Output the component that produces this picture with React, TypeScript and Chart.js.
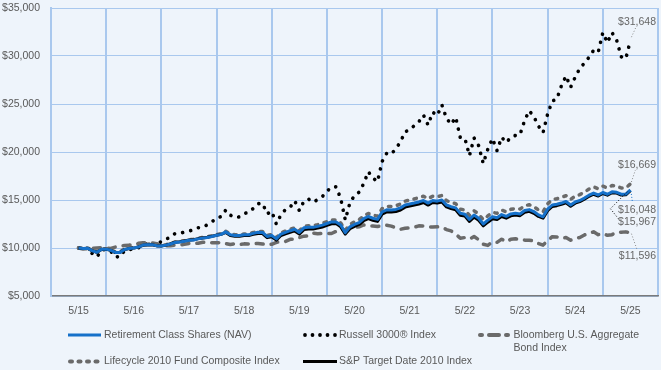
import React, { useEffect, useRef } from 'react';
import { Chart, registerables } from 'chart.js';

Chart.register(...registerables);

// Monthly values, 5/15 .. 5/25 (121 months)
const RETIREMENT_NAV = [
  10000, 9950, 9980, 9700, 9560, 9880, 9880, 9760, 9540, 9520,
  9850, 9960, 10000, 10100, 10300, 10330, 10350, 10230, 10200, 10300,
  10420, 10580, 10620, 10700, 10800, 10830, 10950, 11030, 11100, 11200,
  11320, 11420, 11680, 11380, 11300, 11300, 11380, 11380, 11520, 11640,
  11620, 11200, 11300, 10950, 11450, 11620, 11800, 11950, 11620, 12100,
  12150, 12150, 12250, 12380, 12550, 12720, 12720, 12400, 11600, 12200,
  12450, 12650, 13050, 13280, 13100, 12980, 13750, 13980, 13950, 14020,
  14180, 14480, 14580, 14680, 14800, 14950, 14680, 14950, 14880, 15000,
  14480, 14300, 14180, 13620, 13520, 12980, 13440, 13100, 12500, 12900,
  13250, 13160, 13480, 13300, 13550, 13620, 13550, 13900, 14000, 13800,
  13450, 13250, 14050, 14480, 14550, 14680, 14850, 14480, 14800, 14950,
  15200, 15500, 15720, 15520, 15780, 15600, 15850, 15800, 15600, 15620,
  16048,
];

const SP_TARGET_2010 = [
  10000, 9940, 9960, 9700, 9560, 9850, 9860, 9750, 9520, 9520,
  9830, 9950, 9990, 10090, 10280, 10320, 10340, 10220, 10200, 10300,
  10440, 10600, 10650, 10740, 10830, 10860, 10980, 11050, 11120, 11220,
  11330, 11420, 11620, 11300, 11220, 11220, 11290, 11300, 11420, 11520,
  11500, 11080, 11170, 10820, 11300, 11470, 11640, 11780, 11450, 11920,
  11970, 11980, 12070, 12190, 12350, 12520, 12540, 12200, 11450, 12010,
  12260, 12450, 12840, 13060, 12890, 12770, 13520, 13760, 13740, 13800,
  13960, 14260, 14360, 14470, 14580, 14740, 14470, 14740, 14680, 14800,
  14280, 14100, 13990, 13410, 13320, 12770, 13220, 12890, 12300, 12690,
  13040, 12960, 13280, 13110, 13350, 13430, 13370, 13720, 13820, 13620,
  13290, 13110, 13890, 14330, 14410, 14540, 14710, 14350, 14670, 14830,
  15080, 15380, 15600, 15410, 15680, 15500, 15760, 15720, 15520, 15540,
  15967,
];

const LIFECYCLE_2010 = [
  10000, 9960, 10000, 9730, 9600, 9910, 9920, 9800, 9600, 9590,
  9910, 10020, 10060, 10170, 10370, 10400, 10420, 10300, 10250, 10350,
  10470, 10630, 10680, 10760, 10860, 10900, 11020, 11100, 11180, 11280,
  11400, 11500, 11740, 11450, 11380, 11380, 11460, 11470, 11610, 11730,
  11720, 11310, 11410, 11080, 11580, 11760, 11950, 12100, 11800, 12260,
  12320, 12330, 12430, 12570, 12740, 12920, 12930, 12600, 11850, 12450,
  12720, 12940, 13360, 13600, 13430, 13320, 14100, 14340, 14320, 14400,
  14580, 14880, 15000, 15110, 15250, 15400, 15130, 15400, 15340, 15470,
  14940, 14740, 14620, 14050, 13960, 13400, 13880, 13540, 12940, 13340,
  13700, 13620, 13950, 13770, 14030, 14110, 14050, 14400, 14510, 14310,
  13960, 13760, 14600, 15050, 15130, 15270, 15450, 15070, 15400, 15560,
  15830, 16140, 16380, 16170, 16440, 16260, 16510, 16460, 16250, 16270,
  16669,
];

const BLOOMBERG_AGG = [
  10000, 9890, 9960, 9950, 10010, 10020, 9990, 9960, 10100, 10170,
  10260, 10300, 10300, 10490, 10550, 10540, 10530, 10450, 10210, 10220,
  10240, 10310, 10310, 10390, 10470, 10460, 10500, 10600, 10550, 10550,
  10540, 10580, 10460, 10360, 10430, 10350, 10430, 10410, 10420, 10480,
  10420, 10330, 10390, 10580, 10700, 10690, 10900, 10900, 11090, 11230,
  11260, 11550, 11490, 11520, 11520, 11510, 11730, 11940, 11870, 12080,
  12140, 12210, 12400, 12300, 12290, 12230, 12350, 12370, 12280, 12100,
  11950, 12050, 12090, 12170, 12310, 12290, 12180, 12180, 12210, 12180,
  11920, 11780, 11460, 11020, 11090, 10920, 11190, 10870, 10400, 10270,
  10640, 10590, 10920, 10640, 10910, 10970, 10850, 10820, 10810, 10740,
  10470, 10300, 10770, 11180, 11150, 10990, 11090, 10810, 11000, 11100,
  11360, 11530, 11680, 11390, 11510, 11320, 11390, 11630, 11640, 11680,
  11596,
];

const RUSSELL_3000 = [
  10000, 9830, 10000, 9390, 9080, 9800, 9860, 9660, 9080, 9080,
  9720, 9800, 9970, 10000, 10400, 10440, 10470, 10240, 10720, 10930,
  11130, 11520, 11530, 11650, 11770, 11880, 12110, 12140, 12430, 12720,
  13130, 13270, 13950, 13420, 13170, 13250, 13600, 13700, 14130, 14620,
  14650, 13560, 13820, 12490, 13470, 14010, 14250, 14920, 13900, 14880,
  15100, 14780, 15040, 15350, 15900, 16350, 16370, 15150, 12920, 14700,
  15470, 15810, 16710, 17950, 17290, 16910, 19000, 19860, 19780, 20360,
  21050, 22120, 22300, 22750, 23160, 23850, 22810, 24150, 23800, 24900,
  23520, 22880, 23620, 21510, 21420, 19620, 21460, 20660, 18800, 20300,
  21400, 20140, 21540, 20980, 21540, 21730, 21810, 23300, 24300, 23700,
  22700, 22010, 23960, 25300, 25520, 26910, 27920, 26740, 27810, 28710,
  29260, 29870, 30600, 30390, 32430, 31390, 32430, 31670, 29930, 29720,
  31648,
];

const TICK_LABELS = ['5/15', '5/16', '5/17', '5/18', '5/19', '5/20', '5/21', '5/22', '5/23', '5/24', '5/25'];
const SERIES_NAMES = [
  'Retirement Class Shares (NAV)',
  'S&P Target Date 2010 Index',
  'Lifecycle 2010 Fund Composite Index',
  'Bloomberg U.S. Aggregate Bond Index',
  'Russell 3000® Index',
];

const BG = '#eef4fb';
const GRID = '#a9c8ee';
const TEXT = '#595959';
const BLUE = '#1570c9';
const GRAY = '#6a6a6a';
const FONT = '"Liberation Sans", Arial, sans-serif';

const fmt = (v: number) => '$' + Math.round(v).toLocaleString('en-US');
const toPts = (arr: number[]) => arr.map((y, i) => ({ x: i, y }));

const overlay = {
  id: 'overlay',
  afterDraw(chart: any) {
    const ctx = chart.ctx as CanvasRenderingContext2D;
    ctx.save();
    ctx.font = `10.5px ${FONT}`;
    ctx.textBaseline = 'middle';

    const end = (i: number) => {
      const meta = chart.getDatasetMeta(i);
      const p = meta.data[meta.data.length - 1];
      const ds = chart.data.datasets[i].data;
      return { x: p.x, y: p.y, v: ds[ds.length - 1].y };
    };

    const leader = (pts: number[][], color: string) => {
      ctx.save();
      ctx.strokeStyle = color;
      ctx.lineWidth = 1;
      ctx.setLineDash([1, 2]);
      ctx.beginPath();
      pts.forEach((p, k) => (k === 0 ? ctx.moveTo(p[0], p[1]) : ctx.lineTo(p[0], p[1])));
      ctx.stroke();
      ctx.restore();
    };
    const label = (text: string, y: number) => {
      ctx.fillStyle = '#666';
      ctx.textAlign = 'right';
      ctx.fillText(text, 656, y);
    };

    const ru = end(4);
    leader([[ru.x + 1, ru.y - 3], [ru.x + 6, ru.y - 14]], '#888');
    label(fmt(ru.v), ru.y - 18);

    const lc = end(2);
    leader([[lc.x + 1, lc.y - 2], [lc.x + 5, lc.y - 14]], '#888');
    label(fmt(lc.v), lc.y - 19);

    const rt = end(0);
    leader([[rt.x + 0.5, rt.y + 1], [rt.x + 2, rt.y + 12]], BLUE);
    label(fmt(rt.v), rt.y + 20);

    const sp = end(1);
    leader([[sp.x - 3, sp.y + 1], [sp.x - 20, sp.y + 18], [sp.x - 12, sp.y + 28]], '#000');
    label(fmt(sp.v), sp.y + 31);

    const bb = end(3);
    leader([[bb.x + 1, bb.y + 1], [bb.x + 7, bb.y + 18]], '#888');
    label(fmt(bb.v), bb.y + 23);

    // Legend
    ctx.textAlign = 'left';
    ctx.fillStyle = TEXT;
    const r1 = 335;
    const r2 = 361.5;

    // Retirement
    ctx.save();
    ctx.strokeStyle = BLUE;
    ctx.lineWidth = 3;
    ctx.beginPath();
    ctx.moveTo(68, r1);
    ctx.lineTo(101, r1);
    ctx.stroke();
    ctx.restore();
    ctx.fillText(SERIES_NAMES[0], 104, r1);

    // Russell
    ctx.save();
    ctx.fillStyle = '#000';
    for (let k = 0; k < 5; k++) {
      ctx.beginPath();
      ctx.arc(305 + k * 7.5, r1, 1.9, 0, Math.PI * 2);
      ctx.fill();
    }
    ctx.restore();
    ctx.fillText(SERIES_NAMES[4], 339, r1);

    // Bloomberg
    ctx.save();
    ctx.strokeStyle = GRAY;
    ctx.lineWidth = 4;
    ctx.lineCap = 'round';
    [[480, 482], [489, 499], [506, 508]].forEach(([a, b]) => {
      ctx.beginPath();
      ctx.moveTo(a, r1);
      ctx.lineTo(b, r1);
      ctx.stroke();
    });
    ctx.restore();
    ctx.fillText('Bloomberg U.S. Aggregate', 513.5, r1);
    ctx.fillText('Bond Index', 513.5, r1 + 13);

    // Lifecycle
    ctx.save();
    ctx.strokeStyle = GRAY;
    ctx.lineWidth = 4;
    ctx.lineCap = 'round';
    for (let k = 0; k < 4; k++) {
      const c = 71 + k * 8.5;
      ctx.beginPath();
      ctx.moveTo(c - 1, r2);
      ctx.lineTo(c + 1, r2);
      ctx.stroke();
    }
    ctx.restore();
    ctx.fillText(SERIES_NAMES[2], 104, r2);

    // S&P
    ctx.save();
    ctx.strokeStyle = '#000';
    ctx.lineWidth = 3;
    ctx.beginPath();
    ctx.moveTo(303, r2);
    ctx.lineTo(337, r2);
    ctx.stroke();
    ctx.restore();
    ctx.fillText(SERIES_NAMES[1], 339, r2);

    ctx.restore();
  },
};

export default function App() {
  const ref = useRef<HTMLCanvasElement>(null);

  useEffect(() => {
    const chart = new Chart(ref.current as HTMLCanvasElement, {
      type: 'line',
      data: {
        datasets: [
          {
            label: SERIES_NAMES[0],
            data: toPts(RETIREMENT_NAV),
            borderColor: BLUE,
            borderWidth: 3,
            borderJoinStyle: 'round',
          },
          {
            label: SERIES_NAMES[1],
            data: toPts(SP_TARGET_2010),
            borderColor: '#000',
            borderWidth: 3,
            borderJoinStyle: 'round',
          },
          {
            label: SERIES_NAMES[2],
            data: toPts(LIFECYCLE_2010),
            borderColor: GRAY,
            borderWidth: 3.5,
            borderDash: [2.5, 6.5],
            borderCapStyle: 'round',
            borderJoinStyle: 'round',
          },
          {
            label: SERIES_NAMES[3],
            data: toPts(BLOOMBERG_AGG),
            borderColor: GRAY,
            borderWidth: 3.5,
            borderDash: [7, 8],
            borderCapStyle: 'round',
            borderJoinStyle: 'round',
          },
          {
            label: SERIES_NAMES[4],
            data: toPts(RUSSELL_3000),
            borderColor: '#000',
            borderWidth: 3.6,
            borderDash: [0.1, 8.2],
            borderCapStyle: 'round',
            borderJoinStyle: 'round',
          },
        ] as any,
      },
      options: {
        responsive: false,
        maintainAspectRatio: false,
        animation: false,
        layout: { padding: { top: 8, right: 3, left: 0, bottom: 0 } },
        elements: { point: { radius: 0, hoverRadius: 0 }, line: { tension: 0 } },
        plugins: { legend: { display: false }, tooltip: { enabled: false } },
        scales: {
          x: {
            type: 'linear',
            min: -6,
            max: 126,
            afterBuildTicks: (axis: any) => {
              axis.ticks = TICK_LABELS.map((_, i) => ({ value: i * 12 }));
            },
            afterFit: (axis: any) => {
              axis.height = 74;
              axis.paddingLeft = 0;
              axis.paddingRight = 0;
            },
            ticks: {
              autoSkip: false,
              maxRotation: 0,
              padding: 9,
              color: TEXT,
              font: { size: 10.5, family: FONT },
              callback: (_v: any, i: number) => TICK_LABELS[i],
            },
            grid: { offset: true, color: GRID, lineWidth: 2, drawTicks: false },
            border: { color: '#7a7a7a', width: 1.5 },
          },
          y: {
            min: 5000,
            max: 35000,
            afterFit: (axis: any) => {
              axis.width = 51;
              axis.paddingTop = 0;
              axis.paddingBottom = 0;
            },
            ticks: {
              stepSize: 5000,
              padding: 11,
              color: TEXT,
              font: { size: 10.5, family: FONT },
              callback: (v: any) => fmt(Number(v)),
            },
            grid: { color: GRID, lineWidth: 1, drawTicks: false },
            border: { color: GRID, width: 2 },
          },
        },
      } as any,
      plugins: [overlay],
    });
    return () => chart.destroy();
  }, []);

  return (
    <div style={{ position: 'fixed', left: 0, top: 0, width: 661, height: 370, background: BG }}>
      <canvas ref={ref} width={661} height={370} style={{ display: 'block' }} />
    </div>
  );
}
